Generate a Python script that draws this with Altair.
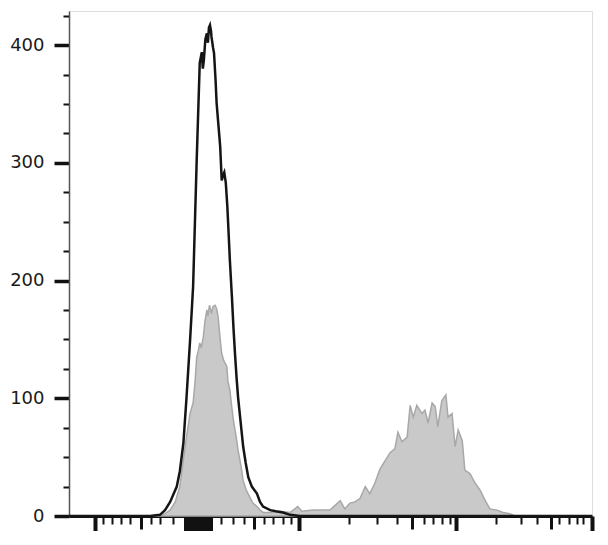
import altair as alt
import pandas as pd

# Unstained / control histogram (black outline), x in display channels (0-1024)
ctrl_x = [0, 159, 178, 188, 198, 211, 217, 224, 230, 237, 243, 250, 256, 260, 262, 264,
          267, 270, 272, 274, 276, 278, 279, 282, 284, 287, 289, 292, 296, 299, 302, 304,
          307, 310, 312, 315, 319, 322, 325, 328, 331, 336, 341, 346, 351, 358, 368, 374,
          380, 394, 405, 419, 433, 452, 1024]
ctrl_y = [0, 0, 1, 5, 12, 25, 38, 62, 100, 149, 195, 302, 385, 394, 380, 387,
          405, 410, 402, 415, 417, 412, 407, 398, 393, 370, 351, 335, 314, 285, 290, 292,
          283, 263, 245, 217, 186, 160, 138, 118, 101, 80, 59, 45, 33, 25, 19, 12,
          8, 5, 4, 3, 1, 0, 0]

# Stained histogram (grey filled)
stain_x = [0, 178, 188, 198, 208, 217, 223, 230, 237, 243, 247, 250, 253, 256, 259, 263,
           266, 270, 272, 275, 277, 279, 282, 286, 289, 292, 296, 299, 303, 309, 311, 315,
           318, 322, 327, 331, 337, 341, 347, 354, 360, 368, 374, 380, 394, 413, 433, 448,
           456, 478, 491, 511, 521, 531, 540, 550, 560, 570, 580, 589, 599, 609, 619, 629,
           638, 644, 652, 662, 668, 674, 681, 691, 697, 703, 711, 717, 722, 730, 738, 742,
           750, 756, 762, 770, 775, 785, 795, 805, 815, 824, 838, 850, 863, 873, 1024]
stain_y = [0, 0, 2, 5, 12, 25, 45, 67, 87, 96, 115, 135, 140, 147, 143, 152,
           165, 175, 170, 179, 176, 172, 178, 179, 176, 169, 150, 138, 132, 127, 115, 107,
           95, 81, 68, 56, 42, 30, 22, 16, 11, 8, 5, 3, 3, 4, 3, 8,
           4, 5, 5, 5, 9, 13, 6, 11, 12, 15, 25, 19, 28, 40, 47, 54,
           57, 71, 63, 67, 94, 84, 94, 87, 90, 79, 96, 93, 76, 98, 103, 84,
           87, 59, 73, 64, 39, 36, 28, 22, 13, 6, 5, 3, 2, 0, 0]

# Biexponential axis tick positions (display channels)
x_major = [51, 450, 758, 1024]
x_medium = [141, 362, 672, 944]
x_cluster = [227, 231, 235, 239, 243, 247, 251, 255, 259, 263, 267, 271, 275, 279]
x_minor = [67, 84, 102, 119, 161, 178, 204, 298, 321, 343, 382, 399, 419, 435,
           548, 603, 642, 695, 713, 730, 746, 836, 885, 916, 959, 979, 995, 1006]
x_ticks = sorted(x_major + x_medium + x_cluster + x_minor)

y_ticks = list(range(0, 426, 25))

df_ctrl = pd.DataFrame({"ch": ctrl_x, "count": ctrl_y})
df_stain = pd.DataFrame({"ch": stain_x, "count": stain_y})


def js_list(v):
    return "[" + ",".join(str(i) for i in v) + "]"


x_axis = alt.Axis(
    values=x_ticks,
    labels=False,
    title=None,
    grid=False,
    domainColor="#111111",
    domainWidth=3,
    tickColor="#111111",
    tickSize={
        "condition": [
            {"test": f"indexof({js_list(x_major)}, datum.value) >= 0", "value": 17},
            {"test": f"indexof({js_list(x_cluster)}, datum.value) >= 0", "value": 15},
            {"test": f"indexof({js_list(x_medium)}, datum.value) >= 0", "value": 13},
        ],
        "value": 8,
    },
    tickWidth={
        "condition": [
            {"test": f"indexof({js_list(x_major)}, datum.value) >= 0", "value": 4},
            {"test": f"indexof({js_list(x_cluster)}, datum.value) >= 0", "value": 3},
            {"test": f"indexof({js_list(x_medium)}, datum.value) >= 0", "value": 3},
        ],
        "value": 2,
    },
)

y_axis = alt.Axis(
    values=y_ticks,
    title=None,
    grid=False,
    labelExpr="datum.value % 100 === 0 ? datum.label : ''",
    labelFont="DejaVu Sans",
    labelFontSize=18,
    labelColor="#1a1a1a",
    labelPadding=10,
    domainColor="#555555",
    domainWidth=1.5,
    tickColor="#111111",
    tickSize={"condition": {"test": "datum.value % 100 === 0", "value": 15}, "value": 6},
    tickWidth={"condition": {"test": "datum.value % 100 === 0", "value": 3.5}, "value": 2},
)

x_enc = alt.X("ch:Q", scale=alt.Scale(domain=[0, 1024], nice=False, zero=False), axis=x_axis)
y_enc = alt.Y("count:Q", scale=alt.Scale(domain=[0, 429], nice=False), axis=y_axis, stack=None)

stained = alt.Chart(df_stain).mark_area(
    color="#c9c9c9", stroke="#a8a8a8", strokeWidth=1.5
).encode(x=x_enc, y=y_enc)
control = alt.Chart(df_ctrl).mark_line(
    color="#151515", strokeWidth=2.5
).encode(x=x_enc, y=y_enc)

chart = alt.layer(stained, control).properties(
    width=523,
    height=505,
    autosize=alt.AutoSizeParams(type="none"),
    padding={"left": 61, "top": 3, "right": 3, "bottom": 15},
).configure_view(stroke="#555555", strokeWidth=1.5).configure(background="white")

chart.save("out.html", embed_options={"renderer": "svg", "actions": False})
